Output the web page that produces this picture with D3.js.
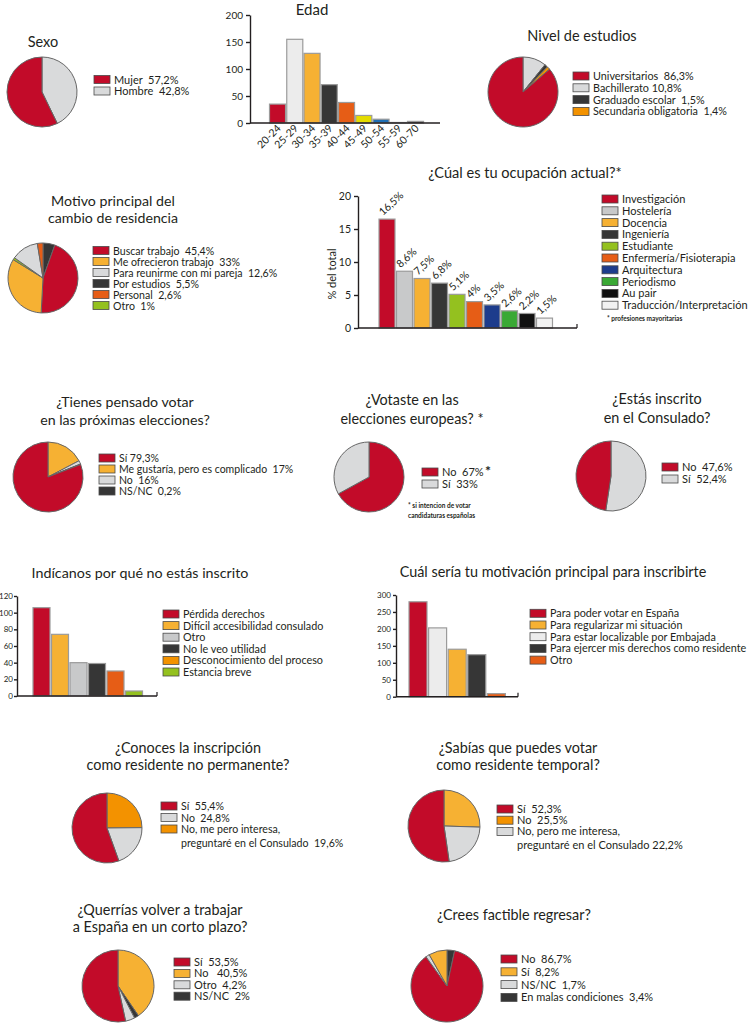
<!DOCTYPE html>
<html>
<head>
<meta charset="utf-8">
<script src="https://cdn.jsdelivr.net/npm/d3@7"></script>
<style>
  body { margin: 0; background: #fff; }
  svg { display: block; font-family: Lato, 'Open Sans', sans-serif; fill: #231f20; }
  svg text { white-space: pre; }
</style>
</head>
<body>
<div id="vis"></div>
<script>
// colours
var red = '#c20b29', grey = '#d9dadb', light = '#ececec', midGrey = '#c8c9ca',
    yellow = '#f6b133', dark = '#363636', orange = '#f39200', rust = '#e65d16',
    lime = '#94c11f', lemon = '#e4dc00', blue = '#1f6fb5', navy = '#1d3c8c',
    green = '#3aa935', black = '#111111', paper = '#f2f2f2';

// ---- data ----
var sexoLabels = ['Mujer  57,2%', 'Hombre  42,8%'];
var sexoValues = [57.2, 42.8];
var sexoOrder = [1, 0];

var edadCats = ['20-24', '25-29', '30-34', '35-39', '40-44', '45-49', '50-54', '55-59', '60-70'];
var edadValues = [35, 155, 129, 71, 38, 14, 7, 1, 3];
var edadTicks = [0, 50, 100, 150, 200];

var estudiosLabels = ['Universitarios  86,3%', 'Bachillerato 10,8%', 'Graduado escolar  1,5%', 'Secundaria obligatoria  1,4%'];
var estudiosValues = [86.3, 10.8, 1.5, 1.4];
var estudiosOrder = [1, 2, 3, 0];

var motivoLabels = ['Buscar trabajo  45,4%', 'Me ofrecieron trabajo  33%', 'Para reunirme con mi pareja  12,6%', 'Por estudios  5,5%', 'Personal  2,6%', 'Otro  1%'];
var motivoValues = [45.4, 33, 12.6, 5.5, 2.6, 1];
var motivoOrder = [3, 0, 1, 5, 2, 4];

var ocupCats = ['Investigación', 'Hostelería', 'Docencia', 'Ingeniería', 'Estudiante', 'Enfermería/Fisioterapia', 'Arquitectura', 'Periodismo', 'Au pair', 'Traducción/Interpretación'];
var ocupValues = [16.5, 8.6, 7.5, 6.8, 5.1, 4, 3.5, 2.6, 2.2, 1.5];
var ocupLabels = ['16,5%', '8,6%', '7,5%', '6,8%', '5,1%', '4%', '3,5%', '2,6%', '2,2%', '1,5%'];
var ocupTicks = [0, 5, 10, 15, 20];

var votarLabels = ['Sí 79,3%', 'Me gustaría, pero es complicado  17%', 'No  16%', 'NS/NC  0,2%'];
var votarValues = [79.3, 17, 1.6, 0.2];
var votarOrder = [1, 2, 3, 0];

var europeasLabels = ['No  67%', 'Sí  33%'];
var europeasValues = [67, 33];
var europeasOrder = [0, 1];

var consuladoLabels = ['No  47,6%', 'Sí  52,4%'];
var consuladoValues = [47.6, 52.4];
var consuladoOrder = [1, 0];

var inscritoCats = ['Pérdida derechos', 'Difícil accesibilidad consulado', 'Otro', 'No le veo utilidad', 'Desconocimiento del proceso', 'Estancia breve'];
var inscritoValues = [106, 74, 40, 39, 30, 6];
var inscritoTicks = [0, 20, 40, 60, 80, 100, 120];

var motivacionCats = ['Para poder votar en España', 'Para regularizar mi situación', 'Para estar localizable por Embajada', 'Para ejercer mis derechos como residente', 'Otro'];
var motivacionValues = [280, 203, 140, 124, 9];
var motivacionTicks = [0, 50, 100, 150, 200, 250, 300];

var conocesLabels = ['Sí  55,4%', 'No  24,8%', ['No, me pero interesa,', 'preguntaré en el Consulado  19,6%']];
var conocesValues = [55.4, 24.8, 19.6];
var conocesOrder = [1, 2, 0];

var sabiasLabels = ['Sí  52,3%', 'No  25,5%', ['No, pero me interesa,', 'preguntaré en el Consulado 22,2%']];
var sabiasValues = [52.3, 25.5, 22.2];
var sabiasOrder = [1, 2, 0];

var volverLabels = ['Sí  53,5%', 'No   40,5%', 'Otro  4,2%', 'NS/NC  2%'];
var volverValues = [53.5, 40.5, 4.2, 2];
var volverOrder = [1, 3, 2, 0];

var regresarLabels = ['No  86,7%', 'Sí  8,2%', 'NS/NC  1,7%', 'En malas condiciones  3,4%'];
var regresarValues = [86.7, 8.2, 1.7, 3.4];
var regresarOrder = [3, 0, 2, 1];

var svg = d3.select('#vis').append('svg')
  .attr('width', 750)
  .attr('height', 1024);

function addTitle(lines, x, y, size, lh) {
  var t = svg.append('text')
    .attr('x', x).attr('y', y)
    .attr('text-anchor', 'middle')
    .style('font-size', size + 'px');
  lines.forEach(function (l, i) {
    t.append('tspan').attr('x', x).attr('dy', i ? lh : 0).text(l);
  });
}

function addLegend(x, y, labels, colors, step, size) {
  var g = svg.append('g').attr('transform', 'translate(' + x + ',' + y + ')');
  var yy = 0;
  labels.forEach(function (l, i) {
    var lines = [].concat(l);
    g.append('rect')
      .attr('x', 0).attr('y', yy - 4)
      .attr('width', 16).attr('height', 8)
      .attr('fill', colors[i])
      .attr('stroke', '#4a4a4a').attr('stroke-width', 0.8);
    lines.forEach(function (s, j) {
      g.append('text')
        .attr('x', 20).attr('y', yy + 4 + j * step * 1.2)
        .style('font-size', size + 'px')
        .text(s);
    });
    yy += step * (1 + (lines.length - 1) * 1.2);
  });
}

function addPie(cx, cy, r, values, order, colors) {
  var data = order.map(function (i) { return { v: values[i], c: colors[i] }; });
  var arcs = d3.pie().sort(null).value(function (d) { return d.v; })(data);
  var arc = d3.arc().innerRadius(0).outerRadius(r);
  svg.append('g')
    .attr('transform', 'translate(' + cx + ',' + cy + ')')
    .selectAll('path')
    .data(arcs)
    .join('path')
    .attr('d', arc)
    .attr('fill', function (d) { return d.data.c; })
    .attr('stroke', '#666')
    .attr('stroke-width', 1);
}

function addBars(o) {
  var n = o.cats.length;
  var x = d3.scaleBand()
    .domain(o.cats)
    .range([o.x0, o.x0 + o.step * n])
    .paddingInner(o.pad)
    .paddingOuter(o.pad / 2);
  var y = d3.scaleLinear()
    .domain([0, o.ticks[o.ticks.length - 1]])
    .range([o.yBase, o.yTop]);

  var g = svg.append('g');

  g.selectAll('rect')
    .data(o.values)
    .join('rect')
    .attr('x', function (d, i) { return x(o.cats[i]); })
    .attr('y', function (d) { return y(d); })
    .attr('width', x.bandwidth())
    .attr('height', function (d) { return o.yBase - y(d); })
    .attr('fill', function (d, i) { return o.colors[i]; })
    .attr('stroke', '#9b9b9b')
    .attr('stroke-width', 1.2);

  var ax = g.append('g')
    .attr('transform', 'translate(' + o.axisX + ',0)')
    .call(d3.axisLeft(y).tickValues(o.ticks).tickSize(o.tick || 4).tickSizeOuter(0).tickPadding(o.tickPad || 3));
  ax.selectAll('path, line').attr('stroke', '#231f20').attr('stroke-width', 1.4);
  ax.selectAll('text').style('font-size', o.tickFont + 'px').attr('fill', '#231f20').style('font-family', 'Lato, sans-serif');

  g.append('line')
    .attr('x1', o.axisX).attr('x2', o.axisEnd)
    .attr('y1', o.yBase).attr('y2', o.yBase)
    .attr('stroke', '#231f20').attr('stroke-width', 1.4);
  if (o.endTick) {
    g.append('line')
      .attr('x1', o.axisEnd).attr('x2', o.axisEnd)
      .attr('y1', o.yBase).attr('y2', o.yBase - 4)
      .attr('stroke', '#231f20').attr('stroke-width', 1.2);
  }
  return { x: x, y: y, g: g };
}

// ---- Sexo ----
addTitle(['Sexo'], 43, 47, 14.5, 0);
addPie(42, 92, 35, sexoValues, sexoOrder, [red, grey]);
addLegend(94, 79.5, sexoLabels, [red, grey], 11.5, 11);

// ---- Edad ----
addTitle(['Edad'], 312, 15, 15, 0);
var edad = addBars({
  cats: edadCats, values: edadValues, ticks: edadTicks,
  colors: [red, light, yellow, dark, rust, lemon, blue, paper, black],
  x0: 268.9, step: 17.25, pad: 0.07,
  yBase: 123, yTop: 15, axisX: 250, axisEnd: 440, tickFont: 10
});
edad.g.selectAll('text.cat')
  .data(edadCats)
  .join('text')
  .attr('class', 'cat')
  .attr('text-anchor', 'end')
  .attr('transform', function (d) {
    return 'translate(' + (edad.x(d) + edad.x.bandwidth() / 2 + 4) + ',129) rotate(-45)';
  })
  .style('font-size', '10.5px')
  .text(function (d) { return d; });

// ---- Nivel de estudios ----
addTitle(['Nivel de estudios'], 582, 41, 14.5, 0);
addPie(523, 92, 35, estudiosValues, estudiosOrder, [red, grey, dark, orange]);
addLegend(573, 76, estudiosLabels, [red, grey, dark, orange], 11.8, 10.8);

// ---- Motivo principal ----
addTitle(['Motivo principal del', 'cambio de residencia'], 113, 206, 14.2, 16.5);
addPie(43, 278, 35, motivoValues, motivoOrder, [red, yellow, grey, dark, rust, lime]);
addLegend(93, 250.5, motivoLabels, [red, yellow, grey, dark, rust, lime], 11, 10.6);

// ---- Ocupación ----
addTitle(['¿Cúal es tu ocupación actual?*'], 525, 178, 14.6, 0);
var ocupColors = [red, midGrey, yellow, dark, lime, rust, navy, green, black, paper];
var ocup = addBars({
  cats: ocupCats, values: ocupValues, ticks: ocupTicks,
  colors: ocupColors,
  x0: 378.25, step: 17.5, pad: 0.086,
  yBase: 328, yTop: 196, axisX: 358, axisEnd: 577, tickFont: 10.5, endTick: true
});
ocup.g.selectAll('text.val')
  .data(ocupValues)
  .join('text')
  .attr('class', 'val')
  .attr('transform', function (d, i) {
    return 'translate(' + (ocup.x(ocupCats[i]) + 4) + ',' + (ocup.y(d) - 3) + ') rotate(-43)';
  })
  .style('font-size', '10.5px')
  .text(function (d, i) { return ocupLabels[i]; });
svg.append('text')
  .attr('transform', 'translate(336,274) rotate(-90)')
  .attr('text-anchor', 'middle')
  .style('font-size', '11px')
  .text('% del total');
addLegend(602, 199, ocupCats, ocupColors, 11.8, 11);
svg.append('text')
  .attr('x', 607).attr('y', 321)
  .style('font-size', '6.5px').style('font-weight', 'bold')
  .text('* profesiones mayoritarias');

// ---- Votar ----
addTitle(['¿Tienes pensado votar', 'en las próximas elecciones?'], 125, 407, 14.2, 18);
addPie(48, 477, 35, votarValues, votarOrder, [red, yellow, grey, dark]);
addLegend(99, 458, votarLabels, [red, yellow, grey, dark], 11, 10.5);

// ---- Europeas ----
addTitle(['¿Votaste en las', 'elecciones europeas? *'], 412, 405, 14.4, 19);
addPie(369, 477, 35, europeasValues, europeasOrder, [red, grey]);
addLegend(422, 472, europeasLabels, [red, grey], 12, 11);
svg.append('text')
  .attr('x', 485).attr('y', 476)
  .style('font-size', '14px').style('font-weight', 'bold')
  .text('*');
svg.append('text')
  .attr('x', 408).attr('y', 508)
  .style('font-size', '6.5px').style('font-weight', 'bold')
  .selectAll('tspan')
  .data(['* si intencion de votar', 'candidaturas españolas'])
  .join('tspan')
  .attr('x', 408)
  .attr('dy', function (d, i) { return i ? 10 : 0; })
  .text(function (d) { return d; });

// ---- Consulado ----
addTitle(['¿Estás inscrito', 'en el Consulado?'], 657, 404, 14.4, 19);
addPie(611, 476, 35, consuladoValues, consuladoOrder, [red, grey]);
addLegend(662, 467, consuladoLabels, [red, grey], 12, 11);

// ---- Indícanos ----
addTitle(['Indícanos por qué no estás inscrito'], 140, 578, 14.3, 0);
var inscritoColors = [red, yellow, midGrey, dark, rust, lime];
addBars({
  cats: inscritoCats, values: inscritoValues, ticks: inscritoTicks,
  colors: inscritoColors,
  x0: 32.25, step: 18.5, pad: 0.081,
  yBase: 696, yTop: 596, axisX: 17, axisEnd: 157, tickFont: 8, tick: 3, tickPad: 1, endTick: true
});
addLegend(163, 614, inscritoCats, [red, yellow, midGrey, dark, orange, lime], 11.6, 10.8);

// ---- Motivación ----
addTitle(['Cuál sería tu motivación principal para inscribirte'], 553, 577, 14.4, 0);
addBars({
  cats: motivacionCats, values: motivacionValues, ticks: motivacionTicks,
  colors: [red, light, yellow, dark, rust],
  x0: 408.2, step: 19.6, pad: 0.082,
  yBase: 696.7, yTop: 595, axisX: 396, axisEnd: 518, tickFont: 8, tick: 3, tickPad: 2, endTick: true
});
addLegend(530, 613.3, motivacionCats, [red, yellow, light, dark, rust], 11.7, 10.8);

// ---- Conoces ----
addTitle(['¿Conoces la inscripción', 'como residente no permanente?'], 188, 753, 14.4, 17);
addPie(107, 828, 35, conocesValues, conocesOrder, [red, orange, grey]);
addLegend(161, 806, conocesLabels, [red, grey, orange], 11.5, 10.6);

// ---- Sabías ----
addTitle(['¿Sabías que puedes votar', 'como residente temporal?'], 518, 753, 14.4, 17);
addPie(444, 826, 36, sabiasValues, sabiasOrder, [red, yellow, grey]);
addLegend(497, 809, sabiasLabels, [red, orange, grey], 11.2, 11);

// ---- Volver ----
addTitle(['¿Querrías volver a trabajar', 'a España en un corto plazo?'], 160, 915, 14.4, 17);
addPie(118, 986, 36, volverValues, volverOrder, [red, yellow, grey, dark]);
addLegend(174, 962, volverLabels, [red, yellow, grey, dark], 11.4, 11);

// ---- Regresar ----
addTitle(['¿Crees factible regresar?'], 514, 920, 14.4, 0);
addPie(447, 986, 36, regresarValues, regresarOrder, [red, yellow, grey, dark]);
addLegend(501, 959, regresarLabels, [red, yellow, grey, dark], 12.8, 11);
</script>
</body>
</html>
